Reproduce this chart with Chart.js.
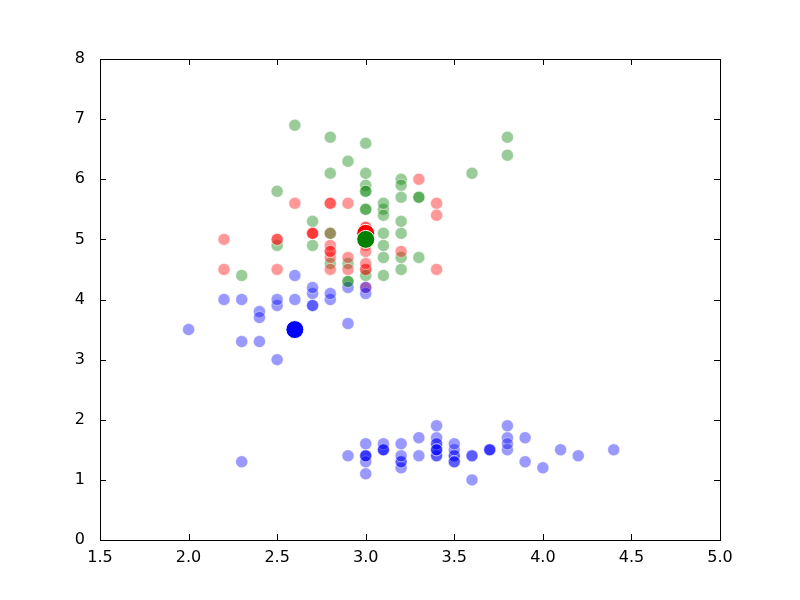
<!DOCTYPE html>
<html>
<head>
<meta charset="utf-8">
<script src="https://cdn.jsdelivr.net/npm/chart.js@4.4.0/dist/chart.umd.min.js"></script>
<style>
  html, body { margin: 0; padding: 0; background: #fff; }
  #c { display: block; }
</style>
</head>
<body>
<canvas id="c" width="800" height="600"></canvas>
<script>
// sepal width (x) / petal length (y), 150 samples
var sepalWidth = [
  3.5,3.0,3.2,3.1,3.6,3.9,3.4,3.4,2.9,3.1,3.7,3.4,3.0,3.0,4.0,4.4,3.9,3.5,3.8,3.8,
  3.4,3.7,3.6,3.3,3.4,3.0,3.4,3.5,3.4,3.2,3.1,3.4,4.1,4.2,3.1,3.2,3.5,3.6,3.0,3.4,
  3.5,2.3,3.2,3.5,3.8,3.0,3.8,3.2,3.7,3.3,
  3.2,3.2,3.1,2.3,2.8,2.8,3.3,2.4,2.9,2.7,2.0,3.0,2.2,2.9,2.9,3.1,3.0,2.7,2.2,2.5,
  3.2,2.8,2.5,2.8,2.9,3.0,2.8,3.0,2.9,2.6,2.4,2.4,2.7,2.7,3.0,3.4,3.1,2.3,3.0,2.5,
  2.6,3.0,2.6,2.3,2.7,3.0,2.9,2.9,2.5,2.8,
  3.3,2.7,3.0,2.9,3.0,3.0,2.5,2.9,2.5,3.6,3.2,2.7,3.0,2.5,2.8,3.2,3.0,3.8,2.6,2.2,
  3.2,2.8,2.8,2.7,3.3,3.2,2.8,3.0,2.8,3.0,2.8,3.8,2.8,2.8,2.6,3.0,3.4,3.1,3.0,3.1,
  3.1,3.1,2.7,3.2,3.3,3.0,2.5,3.0,3.4,3.0
];
var petalLength = [
  1.4,1.4,1.3,1.5,1.4,1.7,1.4,1.5,1.4,1.5,1.5,1.6,1.4,1.1,1.2,1.5,1.3,1.4,1.7,1.5,
  1.7,1.5,1.0,1.7,1.9,1.6,1.6,1.5,1.4,1.6,1.6,1.5,1.5,1.4,1.5,1.2,1.3,1.4,1.3,1.5,
  1.3,1.3,1.3,1.6,1.9,1.4,1.6,1.4,1.5,1.4,
  4.7,4.5,4.9,4.0,4.6,4.5,4.7,3.3,4.6,3.9,3.5,4.2,4.0,4.7,3.6,4.4,4.5,4.1,4.5,3.9,
  4.8,4.0,4.9,4.7,4.3,4.4,4.8,5.0,4.5,3.5,3.8,3.7,3.9,5.1,4.5,4.5,4.7,4.4,4.1,4.0,
  4.4,4.6,4.0,3.3,4.2,4.2,4.2,4.3,3.0,4.1,
  6.0,5.1,5.9,5.6,5.8,6.6,4.5,6.3,5.8,6.1,5.1,5.3,5.5,5.0,5.1,5.3,5.5,6.7,6.9,5.0,
  5.7,4.9,6.7,4.9,5.7,6.0,4.8,4.9,5.6,5.8,6.1,6.4,5.6,5.1,5.6,6.1,5.6,5.5,4.8,5.4,
  5.6,5.1,5.1,5.9,5.7,5.2,5.0,5.2,5.4,5.1
];
// 0 = blue, 1 = red, 2 = green
var cluster = [
  0,0,0,0,0,0,0,0,0,0,0,0,0,0,0,0,0,0,0,0,
  0,0,0,0,0,0,0,0,0,0,0,0,0,0,0,0,0,0,0,0,
  0,0,0,0,0,0,0,0,0,0,
  2,2,2,0,2,1,2,0,2,0,0,1,0,1,0,2,1,0,1,0,
  1,0,2,1,2,2,1,2,1,0,0,0,0,1,1,1,2,2,0,0,
  0,1,0,0,0,0,0,2,0,0,
  1,1,2,1,2,2,1,2,2,2,2,2,2,1,1,2,2,2,2,1,
  2,1,2,2,2,2,1,1,1,2,2,2,1,2,1,2,1,2,1,2,
  2,2,1,2,2,1,1,1,1,2
];
var centroidX = [2.6, 3.0, 3.0];
var centroidY = [3.5, 5.1, 5.0];

var faceColors = ['rgba(0,0,255,0.4)', 'rgba(255,0,0,0.4)', 'rgba(0,128,0,0.4)'];
var solidColors = ['#0000ff', '#ff0000', '#008000'];

var points = [];
var pointColors = [];
for (var i = 0; i < sepalWidth.length; i++) {
  points.push({x: sepalWidth[i], y: petalLength[i]});
  pointColors.push(faceColors[cluster[i]]);
}

function centroidSet(k, ord) {
  return {
    data: [{x: centroidX[k], y: centroidY[k]}],
    backgroundColor: solidColors[k],
    borderColor: '#ffffff',
    borderWidth: 1,
    pointRadius: 9,
    pointHoverRadius: 9,
    order: ord
  };
}

// matplotlib style frame with inward ticks on all four sides
var frame = {
  id: 'frame',
  afterDatasetsDraw: function (chart) {
    var c = chart.ctx, a = chart.chartArea;
    var xs = chart.scales.x, ys = chart.scales.y;
    c.save();
    c.strokeStyle = '#000';
    c.lineWidth = 1;
    c.beginPath();
    xs.ticks.forEach(function (t) {
      var px = Math.round(xs.getPixelForValue(t.value)) + 0.5;
      c.moveTo(px, a.bottom); c.lineTo(px, a.bottom - 6);
      c.moveTo(px, a.top); c.lineTo(px, a.top + 6);
    });
    ys.ticks.forEach(function (t) {
      var py = Math.round(ys.getPixelForValue(t.value)) + 0.5;
      c.moveTo(a.left, py); c.lineTo(a.left + 6, py);
      c.moveTo(a.right, py); c.lineTo(a.right - 6, py);
    });
    c.stroke();
    c.strokeRect(Math.round(a.left) + 0.5, Math.round(a.top) + 0.5,
                 Math.round(a.right - a.left), Math.round(a.bottom - a.top));
    c.restore();
  }
};

new Chart(document.getElementById('c'), {
  type: 'scatter',
  data: {
    datasets: [
      centroidSet(2, 0),
      centroidSet(1, 1),
      centroidSet(0, 2),
      {
        data: points,
        backgroundColor: pointColors,
        borderColor: 'rgba(255,255,255,0.4)',
        borderWidth: 1,
        pointRadius: 6,
        pointHoverRadius: 6,
        order: 3
      }
    ]
  },
  options: {
    responsive: false,
    animation: false,
    layout: { padding: { top: 59, right: 80, left: 0, bottom: 0 } },
    plugins: { legend: { display: false }, tooltip: { enabled: false } },
    scales: {
      x: {
        type: 'linear',
        min: 1.5, max: 5.0,
        grid: { display: false },
        border: { display: false },
        ticks: {
          stepSize: 0.5,
          color: '#000',
          padding: 0,
          font: { family: 'DejaVu Sans', size: 16 },
          callback: function (v) { return v.toFixed(1); }
        },
        afterFit: function (s) { s.height = 60; }
      },
      y: {
        min: 0, max: 8,
        grid: { display: false },
        border: { display: false },
        ticks: {
          stepSize: 1,
          color: '#000',
          padding: 7,
          font: { family: 'DejaVu Sans', size: 16 }
        },
        afterFit: function (s) { s.width = 100; }
      }
    }
  },
  plugins: [frame]
});
</script>
</body>
</html>
